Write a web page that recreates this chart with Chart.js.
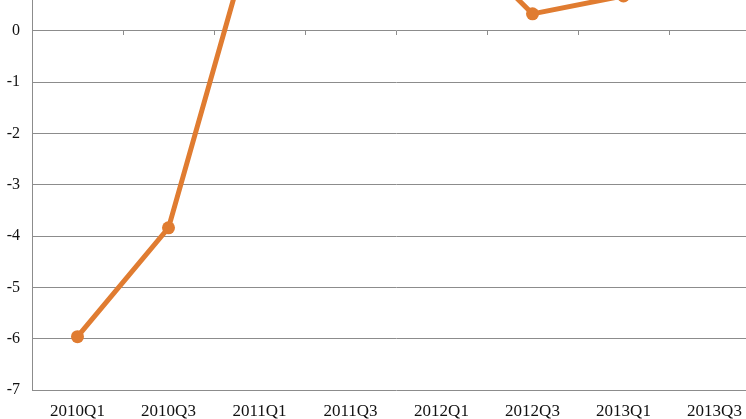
<!DOCTYPE html>
<html>
<head>
<meta charset="utf-8">
<script src="https://cdn.jsdelivr.net/npm/chart.js@4/dist/chart.umd.min.js"></script>
<style>
  html, body { margin: 0; padding: 0; background: #fff; overflow: hidden; }
  #wrap { width: 760px; height: 419px; position: relative; }
</style>
</head>
<body>
<div id="wrap"><canvas id="grafico"></canvas></div>
<script>
const categorias = ["2010Q1", "2010Q3", "2011Q1", "2011Q3", "2012Q1", "2012Q3", "2013Q1", "2013Q3"];
const valores = [-5.96, -3.84, 2.4, 2.6, 2.1, 0.33, 0.68, null];
const yMin = -7;
const yMax = 0.6;

const cinza = "#8c8c8c";
const laranja = "#e07c31";

const ctx = document.getElementById("grafico").getContext("2d");
new Chart(ctx, {
  type: "line",
  data: {
    labels: categorias,
    datasets: [
      {
        data: valores,
        borderColor: laranja,
        backgroundColor: laranja,
        borderWidth: 5,
        pointRadius: 6.5,
        pointBorderWidth: 0,
        pointBackgroundColor: laranja,
        tension: 0,
        xAxisID: "x",
      },
    ],
  },
  options: {
    responsive: true,
    maintainAspectRatio: false,
    animation: false,
    layout: { padding: 0, autoPadding: false },
    plugins: { legend: { display: false }, tooltip: { enabled: false } },
    scales: {
      x: {
        type: "category",
        position: "bottom",
        offset: true,
        grid: { display: false },
        border: { display: false },
        ticks: {
          maxRotation: 0,
          autoSkip: false,
          padding: 3,
          color: "#111",
          font: { family: "Liberation Serif", size: 17 },
        },
        afterFit: (scale) => {
          scale.height = 29;
          scale.paddingLeft = 0;
          scale.paddingRight = 0;
        },
      },
      // marcas pequenas sobre a linha do zero
      x2: {
        type: "category",
        labels: categorias,
        position: { y: 0 },
        offset: true,
        grid: { offset: true, drawOnChartArea: false, drawTicks: true, tickLength: 4, color: cinza },
        border: { display: false },
        ticks: { display: false },
        afterFit: (scale) => {
          scale.height = 0;
          scale.paddingLeft = 0;
          scale.paddingRight = 0;
        },
      },
      y: {
        min: yMin,
        max: yMax,
        ticks: {
          stepSize: 1,
          padding: 12,
          color: "#111",
          font: { family: "Liberation Serif", size: 16 },
        },
        afterBuildTicks: (scale) => {
          scale.ticks = scale.ticks.filter((t) => Number.isInteger(t.value));
        },
        grid: { color: cinza, drawTicks: false },
        border: { color: cinza },
        afterFit: (scale) => {
          scale.width = 32;
          scale.paddingTop = 0;
          scale.paddingBottom = 0;
        },
      },
    },
  },
});
</script>
</body>
</html>
